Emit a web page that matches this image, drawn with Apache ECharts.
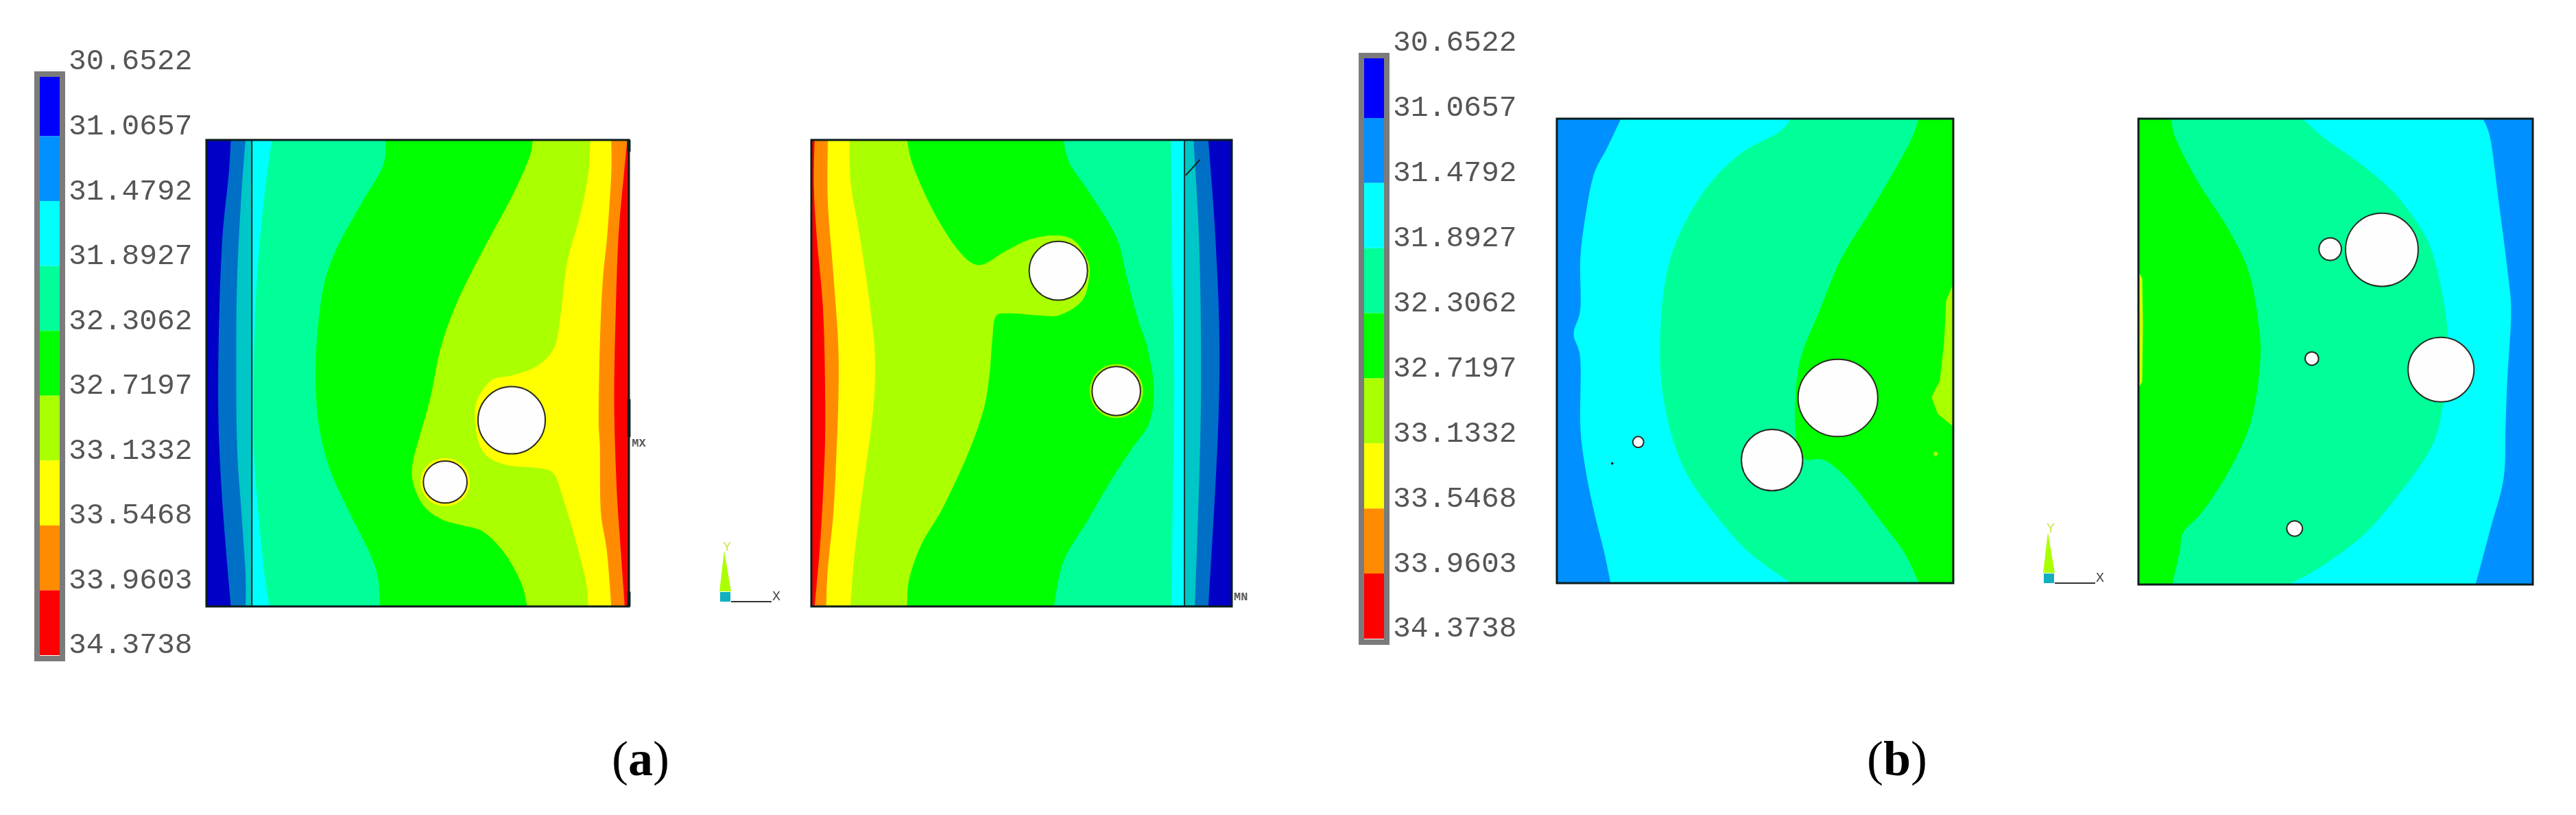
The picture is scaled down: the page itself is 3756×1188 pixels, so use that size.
<!DOCTYPE html>
<html>
<head>
<meta charset="utf-8">
<style>
  html, body { margin: 0; background: #fff; }
  #chart { width: 3756px; height: 1188px; }
</style>
<script src="https://cdn.jsdelivr.net/npm/echarts@6/dist/echarts.min.js"></script>
</head>
<body>
<div id="chart"></div>
<script>
// contour levels on the colour bar, top to bottom
const tickLabels = ["30.6522", "31.0657", "31.4792", "31.8927", "32.3062", "32.7197", "33.1332", "33.5468", "33.9603", "34.3738"];
const bandColors = ["#0000ff", "#0090ff", "#00ffff", "#00ff99", "#00ff00", "#aaff00", "#ffff00", "#ff8c00", "#ff0000"];

// contour lines, model units, origin top left of each panel, read top to bottom
const a1Extent = [1005, 1110];
const a1Cyan = [[93, 0], [83, 132], [73, 332], [71, 532], [73, 732], [83, 882], [93, 1032], [93, 1110]];
const a1Blue2 = [[58, 0], [53, 82], [38, 232], [30, 432], [28, 632], [33, 782], [43, 932], [58, 1110]];
const a1Spring = [[156, 0], [138, 132], [120, 332], [113, 532], [113, 732], [123, 882], [138, 1032], [150, 1110]];
const a1Green = [[426, 0], [420, 62], [368, 152], [308, 262], [278, 352], [263, 472], [260, 582], [268, 682], [293, 782], [338, 882], [388, 982], [408, 1042], [413, 1110]];
const a1Lime = [[776, 0], [768, 42], [728, 132], [658, 262], [598, 382], [558, 492], [533, 612], [508, 702], [490, 772], [493, 822], [518, 872], [558, 902], [608, 917], [658, 932], [708, 982], [748, 1052], [763, 1110]];
const a1Yellow = [[913, 0], [908, 82], [888, 182], [858, 292], [843, 412], [828, 492], [788, 537], [728, 560], [678, 572], [643, 622], [640, 682], [658, 742], [708, 772], [798, 782], [828, 797], [848, 852], [878, 952], [903, 1052], [908, 1110]];
const a1Orange = [[963, 0], [963, 82], [953, 232], [943, 332], [936, 482], [933, 662], [936, 732], [938, 882], [953, 982], [963, 1110]];
const a1Red = [[1001, 0], [993, 82], [980, 232], [973, 432], [970, 632], [976, 832], [986, 982], [995, 1110]];
const a1Holes = [[726, 667, 80, 80], [568, 814, 52, 50]];

const a2Extent = [1023, 1334];
const a2Orange = [[8, 0], [6, 126], [13, 276], [28, 476], [33, 676], [33, 876], [23, 1126], [8, 1334]];
const a2Yellow = [[40, 0], [40, 176], [53, 376], [65, 576], [66, 726], [60, 926], [53, 1076], [40, 1226], [36, 1334]];
const a2Lime = [[93, 0], [96, 126], [118, 276], [143, 476], [155, 626], [150, 776], [128, 976], [106, 1176], [95, 1334]];
const a2Green = [[233, 0], [248, 76], [298, 206], [358, 316], [408, 358], [468, 321], [528, 286], [588, 273], [638, 286], [673, 346], [676, 396], [658, 461], [603, 501], [548, 501], [478, 496], [448, 506], [440, 576], [433, 676], [418, 776], [378, 906], [318, 1056], [268, 1156], [238, 1256], [233, 1334]];
const a2Spring = [[613, 0], [628, 66], [668, 136], [718, 226], [748, 296], [768, 396], [793, 506], [818, 596], [833, 706], [823, 806], [778, 886], [728, 976], [668, 1096], [613, 1206], [590, 1334]];
const a2Cyan = [[875, 0], [878, 376], [883, 676], [880, 976], [876, 1334]];
const a2Blue2 = [[930, 0], [943, 276], [948, 576], [946, 876], [933, 1334]];
const a2Blue = [[966, 0], [983, 276], [993, 576], [988, 876], [966, 1334]];
const a2Holes = [[601, 374, 71, 84], [742, 718, 59, 70]];

const b1Extent = [945, 1106];
const b1Cyan = [[153, 0], [118, 73], [88, 133], [68, 233], [56, 333], [56, 453], [40, 513], [56, 573], [56, 733], [68, 833], [88, 933], [113, 1033], [128, 1106]];
const b1Spring = [[558, 0], [528, 33], [438, 83], [358, 163], [298, 263], [263, 363], [248, 483], [248, 613], [268, 733], [308, 843], [378, 943], [458, 1033], [558, 1106]];
const b1Green = [[863, 0], [838, 63], [758, 203], [678, 333], [628, 453], [578, 583], [568, 733], [588, 808], [638, 813], [698, 863], [768, 953], [828, 1033], [863, 1106]];
const b1LimePatch = [[945, 393], [928, 433], [923, 533], [913, 623], [893, 663], [908, 703], [945, 733]];
const b1LimeDot = [[897, 798], [903, 791], [909, 798], [903, 805]];
const b1Holes = [[670, 665, 95, 92], [513, 813, 73, 73], [194, 770, 13, 13]];

const b2Extent = [1053, 1400];
const b2Spring = [[88, 0], [100, 62], [160, 192], [240, 332], [295, 462], [320, 612], [325, 732], [300, 912], [240, 1062], [170, 1182], [120, 1242], [110, 1302], [90, 1400]];
const b2Cyan = [[438, 0], [500, 62], [600, 142], [690, 232], [770, 362], [805, 492], [825, 632], [825, 732], [810, 882], [780, 992], [700, 1122], [600, 1252], [480, 1352], [400, 1400]];
const b2Blue2 = [[920, 0], [940, 62], [960, 232], [985, 452], [995, 582], [985, 782], [980, 932], [975, 1082], [940, 1232], [900, 1400]];
const b2YellowPatch = [[0, 460], [10, 480], [12, 620], [10, 790], [0, 810]];
const b2Holes = [[650, 394, 97, 110], [512, 392, 30, 34], [463, 721, 18, 20], [808, 754, 88, 97], [417, 1232, 21, 23]];

const [BLUE, BLUE2, CYAN, SPRING, GREEN, LIME, YELLOW, ORANGE, RED] = bandColors;
const FRAME = "#0c1c1c";
const MONO = "'Liberation Mono', monospace";

// everything on a panel is a list of items, painted in order
const panelItems = {
  a1: [
    { kind: "fill", color: BLUE },
    { kind: "band", color: BLUE2, line: a1Blue2 },
    { kind: "band", color: CYAN, line: a1Cyan },
    { kind: "band", color: SPRING, line: a1Spring },
    { kind: "band", color: GREEN, line: a1Green },
    { kind: "band", color: LIME, line: a1Lime },
    { kind: "band", color: YELLOW, line: a1Yellow },
    { kind: "band", color: ORANGE, line: a1Orange },
    { kind: "band", color: RED, line: a1Red },
    { kind: "dim", from: 0, to: 108 },
    { kind: "rule", points: [[108, 0], [108, 1110]] },
    { kind: "halo", color: YELLOW, hole: [568, 814, 59, 57] },
    ...a1Holes.map((hole) => ({ kind: "hole", hole })),
    { kind: "tick", points: [[1005, 0], [1005, 28]] },
    { kind: "tick", points: [[1005, 617], [1005, 707]] },
    { kind: "tick", points: [[1005, 1075], [1005, 1110]] },
    { kind: "frame" },
    { kind: "note", text: "MX", at: [1012, 722] },
  ],
  a2: [
    { kind: "fill", color: RED },
    { kind: "band", color: ORANGE, line: a2Orange },
    { kind: "band", color: YELLOW, line: a2Yellow },
    { kind: "band", color: LIME, line: a2Lime },
    { kind: "band", color: GREEN, line: a2Green },
    { kind: "band", color: SPRING, line: a2Spring },
    { kind: "band", color: CYAN, line: a2Cyan },
    { kind: "band", color: BLUE2, line: a2Blue2 },
    { kind: "band", color: BLUE, line: a2Blue },
    { kind: "dim", from: 908, to: 1023 },
    { kind: "rule", points: [[908, 0], [908, 1334]] },
    { kind: "rule", points: [[911, 101], [946, 56]] },
    { kind: "halo", color: LIME, hole: [742, 718, 65, 77] },
    ...a2Holes.map((hole) => ({ kind: "hole", hole })),
    { kind: "frame" },
    { kind: "note", text: "MN", at: [1028, 1308] },
  ],
  b1: [
    { kind: "fill", color: BLUE2 },
    { kind: "band", color: CYAN, line: b1Cyan },
    { kind: "band", color: SPRING, line: b1Spring },
    { kind: "band", color: GREEN, line: b1Green },
    { kind: "patch", color: LIME, line: b1LimePatch },
    { kind: "patch", color: LIME, line: b1LimeDot },
    ...b1Holes.map((hole) => ({ kind: "hole", hole })),
    { kind: "halo", color: FRAME, hole: [132, 821, 3, 3] },
    { kind: "frame" },
  ],
  b2: [
    { kind: "fill", color: GREEN },
    { kind: "band", color: SPRING, line: b2Spring },
    { kind: "band", color: CYAN, line: b2Cyan },
    { kind: "band", color: BLUE2, line: b2Blue2 },
    { kind: "patch", color: "#d8ff00", line: b2YellowPatch },
    ...b2Holes.map((hole) => ({ kind: "hole", hole })),
    { kind: "frame" },
  ],
};

// rounds a contour line in pixel space, only for drawing
const roundLine = (pts) => {
  const out = [];
  for (let i = 0; i < pts.length - 1; i += 1) {
    const p0 = pts[Math.max(i - 1, 0)];
    const p1 = pts[i];
    const p2 = pts[i + 1];
    const p3 = pts[Math.min(i + 2, pts.length - 1)];
    for (let k = 0; k < 8; k += 1) {
      const t = k / 8;
      const t2 = t * t;
      const t3 = t2 * t;
      out.push([0, 1].map((d) => 0.5 * (2 * p1[d] + (p2[d] - p0[d]) * t
        + (2 * p0[d] - 5 * p1[d] + 4 * p2[d] - p3[d]) * t2
        + (3 * p1[d] - p0[d] - 3 * p2[d] + p3[d]) * t3)));
    }
  }
  out.push(pts[pts.length - 1]);
  return out;
};

const renderPanelItem = (items, extent) => (params, api) => {
  const item = items[params.dataIndex];
  const xy = (p) => api.coord(p);
  const [w, h] = extent;
  if (item.kind === "fill" || item.kind === "frame" || item.kind === "dim") {
    const a = xy([item.kind === "dim" ? item.from : 0, 0]);
    const b = xy([item.kind === "dim" ? item.to : w, h]);
    const shape = { x: a[0], y: a[1], width: b[0] - a[0], height: b[1] - a[1] };
    if (item.kind === "frame") return { type: "rect", shape, style: { fill: "none", stroke: FRAME, lineWidth: 3 } };
    return { type: "rect", shape, style: { fill: item.kind === "dim" ? "rgba(0,0,0,0.22)" : item.color } };
  }
  if (item.kind === "band") {
    // contour line down, then back up along the right edge of the panel
    const outline = [...roundLine(item.line.map(xy)), xy([w, h]), xy([w, 0])];
    return { type: "polygon", shape: { points: outline }, style: { fill: item.color } };
  }
  if (item.kind === "patch") {
    return { type: "polygon", shape: { points: item.line.map(xy) }, style: { fill: item.color } };
  }
  if (item.kind === "rule" || item.kind === "tick") {
    const a = xy(item.points[0]);
    const b = xy(item.points[1]);
    return {
      type: "line",
      shape: { x1: a[0], y1: a[1], x2: b[0], y2: b[1] },
      style: { stroke: "#10302c", lineWidth: item.kind === "tick" ? 5 : 2 },
    };
  }
  if (item.kind === "hole" || item.kind === "halo") {
    const [cx, cy, rx, ry] = item.hole;
    const c = xy([cx, cy]);
    const size = api.size([rx, ry]);
    const style = item.kind === "hole"
      ? { fill: "#fefefe", stroke: "#2a2a22", lineWidth: 2 }
      : { fill: item.color };
    return { type: "ellipse", shape: { cx: c[0], cy: c[1], rx: size[0], ry: size[1] }, style };
  }
  const p = xy(item.at);
  return {
    type: "text",
    style: { text: item.text, x: p[0], y: p[1], fill: "#555", fontSize: 17, fontWeight: "bold", fontFamily: MONO, verticalAlign: "middle" },
  };
};

const panelGrids = [
  { left: 301, top: 204, width: 616, height: 680, extent: a1Extent, items: panelItems.a1 },
  { left: 1183, top: 204, width: 613, height: 680, extent: a2Extent, items: panelItems.a2 },
  { left: 2270, top: 173, width: 578, height: 677, extent: b1Extent, items: panelItems.b1 },
  { left: 3118, top: 173, width: 575, height: 679, extent: b2Extent, items: panelItems.b2 },
];
const legendGrids = [
  { left: 58, top: 104, width: 30, height: 851 },
  { left: 1989, top: 77, width: 30, height: 854 },
];

const renderLegendItem = (params, api) => {
  const i = params.dataIndex;
  if (i === bandColors.length) {
    const a = api.coord([0, 0]);
    const b = api.coord([1, 9]);
    return {
      type: "rect",
      shape: { x: a[0] - 4, y: a[1] + 4, width: b[0] - a[0] + 7, height: b[1] - a[1] + 1 },
      style: { fill: "none", stroke: "#7b7b7b", lineWidth: 8 },
    };
  }
  const a = api.coord([0, i]);
  const b = api.coord([1, i + 1]);
  return { type: "rect", shape: { x: a[0], y: a[1], width: b[0] - a[0], height: b[1] - a[1] }, style: { fill: bandColors[i] } };
};

const grid = [];
const xAxis = [];
const yAxis = [];
const series = [];

panelGrids.forEach((p) => {
  const n = grid.length;
  grid.push({ left: p.left, top: p.top, width: p.width, height: p.height });
  xAxis.push({ gridIndex: n, type: "value", min: 0, max: p.extent[0], show: false });
  yAxis.push({ gridIndex: n, type: "value", min: 0, max: p.extent[1], inverse: true, show: false });
  series.push({
    type: "custom",
    xAxisIndex: n,
    yAxisIndex: n,
    silent: true,
    renderItem: renderPanelItem(p.items, p.extent),
    data: p.items.map((_, i) => [i]),
  });
});

legendGrids.forEach((l) => {
  const n = grid.length;
  grid.push({ left: l.left, top: l.top, width: l.width, height: l.height });
  xAxis.push({ gridIndex: n, type: "value", min: 0, max: 1, show: false });
  yAxis.push({
    gridIndex: n,
    type: "value",
    position: "right",
    inverse: true,
    min: 0,
    max: 9,
    interval: 1,
    axisLine: { show: false },
    axisTick: { show: false },
    splitLine: { show: false },
    axisLabel: {
      margin: 12,
      color: "#555",
      fontFamily: MONO,
      fontSize: 43,
      lineHeight: 28,
      verticalAlign: "bottom",
      formatter: (v) => tickLabels[v],
    },
  });
  series.push({
    type: "custom",
    xAxisIndex: n,
    yAxisIndex: n,
    silent: true,
    renderItem: renderLegendItem,
    data: [...bandColors, "frame"].map((_, i) => [i]),
  });
});

// small X/Y triad beside each right-hand panel, and the (a)/(b) captions
const triad = (x, y) => [
  { type: "polygon", shape: { points: [[x + 6, y - 67], [x - 1, y - 8], [x + 16, y - 8]] }, style: { fill: LIME } },
  { type: "rect", shape: { x: x, y: y - 7, width: 15, height: 14 }, style: { fill: "#10b0c0" } },
  { type: "line", shape: { x1: x + 16, y1: y + 7, x2: x + 75, y2: y + 7 }, style: { stroke: "#333", lineWidth: 2 } },
  { type: "text", style: { text: "X", x: x + 76, y: y - 10, fill: "#444", fontSize: 20, fontFamily: MONO } },
  { type: "text", style: { text: "Y", x: x + 4, y: y - 82, fill: "#c8e850", fontSize: 20, fontFamily: MONO } },
];
const caption = (letter, x, y) => ({
  type: "text",
  style: {
    x,
    y,
    text: "(" + "{b|" + letter + "}" + ")",
    align: "center",
    verticalAlign: "middle",
    fill: "#000",
    fontSize: 72,
    fontFamily: "'Liberation Serif', serif",
    rich: { b: { fontSize: 72, fontWeight: "bold", fontFamily: "'Liberation Serif', serif", fill: "#000" } },
  },
});

const chart = echarts.init(document.getElementById("chart"), null, { renderer: "canvas" });
chart.setOption({
  animation: false,
  backgroundColor: "#ffffff",
  grid,
  xAxis,
  yAxis,
  series,
  graphic: [...triad(1050, 870), ...triad(2980, 843), caption("a", 934, 1111), caption("b", 2766, 1111)],
});
</script>
</body>
</html>
